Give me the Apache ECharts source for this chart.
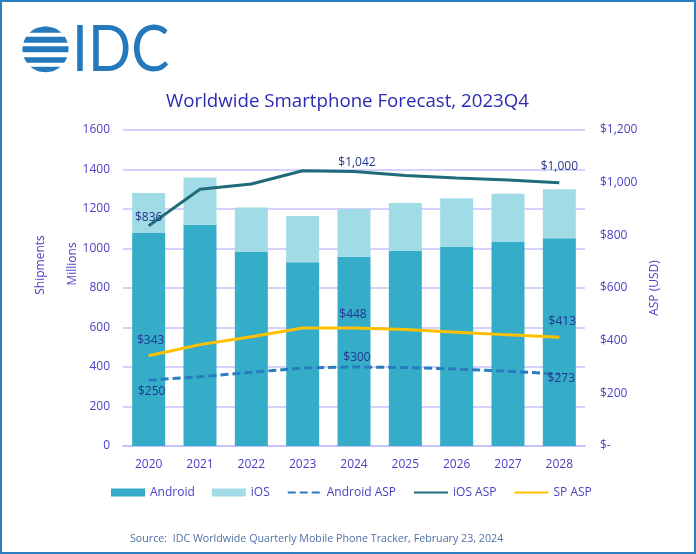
<!DOCTYPE html>
<html><head><meta charset="utf-8">
<style>html,body{margin:0;padding:0;background:#fff}#c{width:696px;height:554px}</style>
<script src="https://cdn.jsdelivr.net/npm/echarts@6/dist/echarts.min.js"></script>
</head><body><div id="c"></div>
<script>
const categories=['2020','2021','2022','2023','2024','2025','2026','2027','2028'];
const android=[1078,1120,982,930,958,988,1010,1033,1052];
const ios=[203,240,226,235,242,242,245,244,248];
const androidAsp=[250,263,280,296,300,298,292,284,273];
const iosAsp=[836,975,995,1045,1042,1027,1018,1010,1000];
const spAsp=[343,385,415,448,448,442,432,422,413];

const font='"Open Sans"';
const axisCol='#4a42c6', gridCol='#c6c3fb', labelCol='#23348f', logoCol='#2479bd';
function lab(vals,idx,offs){
  return vals.map((v,i)=>{
    const k=idx.indexOf(i);
    if(k<0) return v;
    return {value:v,symbol:'circle',symbolSize:0,label:{show:true,position:'top',offset:offs[k],
      formatter:p=>'$'+p.value.toLocaleString('en-US'),
      color:labelCol,fontFamily:font,fontSize:12}};
  });
}
const bands=[[-23,-16.5],[-12.5,-6.5],[-3,3],[8,13.5],[17.5,23]];
function bandPts(b){
  const r=23,cx=45.5,cy=49.3,L=[],R=[];
  for(let k=0;k<=6;k++){
    const y=b[0]+(b[1]-b[0])*k/6, w=Math.sqrt(Math.max(0,r*r-y*y));
    L.push([cx-w,cy+y]); R.unshift([cx+w,cy+y]);
  }
  return L.concat(R);
}
const hide={opacity:0};
const chart=echarts.init(document.getElementById('c'),null,{renderer:'canvas'});
chart.setOption({
  animation:false,
  backgroundColor:'#fff',
  title:{text:'Worldwide Smartphone Forecast, 2023Q4',left:166,top:92,padding:0,
    textStyle:{color:'#2a2ab4',fontFamily:font,fontSize:18.7,fontWeight:'normal'}},
  grid:{left:123,right:111,top:130,bottom:108},
  legend:{left:111,top:486.5,padding:0,itemWidth:34,itemHeight:8,itemGap:17,
    textStyle:{color:axisCol,fontFamily:font,fontSize:12},
    data:[{name:'Android',icon:'rect'},{name:'iOS',icon:'rect'},
      {name:'Android ASP',itemStyle:hide},{name:'iOS ASP',itemStyle:hide},{name:'SP ASP',itemStyle:hide}]},
  xAxis:{type:'category',data:categories,axisTick:{show:false},
    axisLine:{lineStyle:{color:gridCol,width:2}},
    axisLabel:{color:axisCol,fontFamily:font,fontSize:12,margin:13}},
  yAxis:[
    {type:'value',min:0,max:1600,interval:200,axisLine:{show:false},axisTick:{show:false},
     splitLine:{lineStyle:{color:gridCol,width:1.5}},
     axisLabel:{color:axisCol,fontFamily:font,fontSize:12,margin:13,formatter:v=>String(v)}},
    {type:'value',min:0,max:1200,interval:200,axisLine:{show:false},axisTick:{show:false},splitLine:{show:false},
     name:'ASP (USD)',nameLocation:'middle',nameGap:59,nameRotate:90,
     nameTextStyle:{color:axisCol,fontFamily:font,fontSize:12},
     axisLabel:{color:axisCol,fontFamily:font,fontSize:12,margin:15,align:'left',
       formatter:v=>v===0?'$-':'$'+v.toLocaleString('en-US')}}
  ],
  series:[
    {name:'Android',type:'bar',stack:'s',barWidth:33,data:android,itemStyle:{color:'#36adc8'}},
    {name:'iOS',type:'bar',stack:'s',barWidth:33,data:ios,itemStyle:{color:'#a1dbe5'}},
    {name:'Android ASP',type:'line',yAxisIndex:1,data:lab(androidAsp,[0,4,8],[[3,22],[3,2],[2,15]]),symbol:'none',showSymbol:true,showAllSymbol:true,
     lineStyle:{color:'#2a7abf',width:3,type:[8,4]},itemStyle:{color:'#2a7abf'}},
    {name:'iOS ASP',type:'line',yAxisIndex:1,data:lab(iosAsp,[0,4,8],[[0,3],[3,2],[0,-5]]),symbol:'none',showSymbol:true,showAllSymbol:true,
     lineStyle:{color:'#1f6b7a',width:3},itemStyle:{color:'#1f6b7a'}},
    {name:'SP ASP',type:'line',yAxisIndex:1,data:lab(spAsp,[0,4,8],[[2,-4],[-1,-2],[3,-5]]),symbol:'none',showSymbol:true,showAllSymbol:true,
     lineStyle:{color:'#ffc000',width:3},itemStyle:{color:'#ffc000'}}
  ],
  graphic:[
    {type:'rect',shape:{x:1,y:1,width:694,height:552},style:{fill:'none',stroke:'#2a80c0',lineWidth:2},silent:true},
    {type:'text',rotation:Math.PI/2,x:35,y:265,style:{text:'Shipments',fill:axisCol,font:'12px '+font,textAlign:'center',textVerticalAlign:'top'}},
    {type:'text',rotation:Math.PI/2,x:67,y:264,style:{text:'Millions',fill:axisCol,font:'12px '+font,textAlign:'center',textVerticalAlign:'top'}},
    {type:'text',x:72,y:18,scaleX:0.89,style:{text:'IDC',fill:logoCol,font:'400 64px Lato',textVerticalAlign:'top'}},
    {type:'text',x:130,y:539,style:{text:'Source:  IDC Worldwide Quarterly Mobile Phone Tracker, February 23, 2024',fill:'#4f6fa8',font:'10.7px '+font,textVerticalAlign:'middle'}},
    ...bands.map(b=>({type:'polygon',shape:{points:bandPts(b)},style:{fill:logoCol},silent:true}))
  ]
});
</script></body></html>
